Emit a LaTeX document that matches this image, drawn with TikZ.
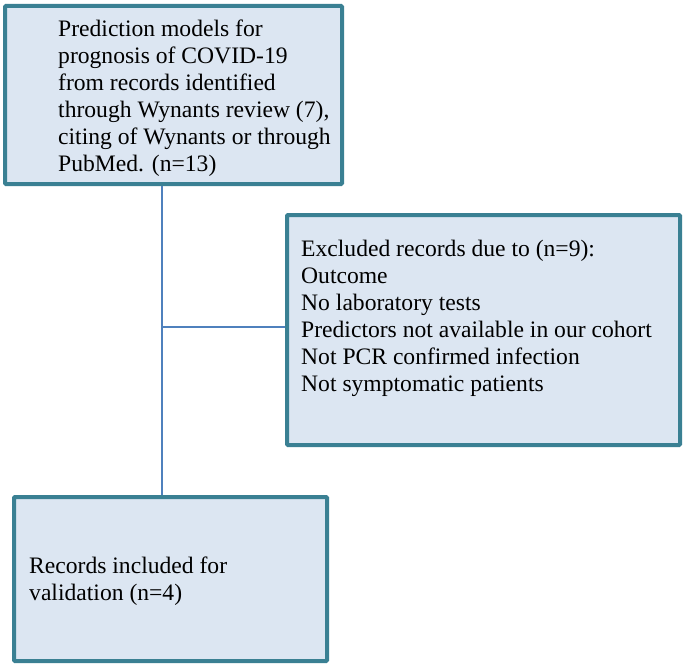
\documentclass[tikz,border=0pt]{standalone}
\usepackage{fontspec}
\setmainfont{Liberation Serif}
\definecolor{frame}{HTML}{3A8093}
\definecolor{boxfill}{HTML}{DCE6F2}
\definecolor{link}{HTML}{4F81BD}
\begin{document}
\begin{tikzpicture}[x=1pt, y=1pt,
		box/.style={draw=frame, line width=4pt, fill=boxfill, rounded corners=1pt, inner sep=0pt},
		txt/.style={align=left, inner sep=0pt, anchor=west, font=\fontsize{23.6}{27}\selectfont},
		conn/.style={draw=link, line width=1.5pt}]
		\useasboundingbox (0, 0) rectangle (685, -669);
		\node[box, minimum width=337, minimum height=178] (pred) at (173.5, -95) {};
		\node[box, minimum width=393, minimum height=230] (excl) at (483.5, -330) {};
		\node[box, minimum width=313, minimum height=164] (incl) at (170.5, -579) {};
		\node[txt] (predtxt) at ([xshift=55, yshift=-3]pred.west)
			{Prediction models for\\prognosis of COVID-19\\from records identified\\through Wynants review (7),\\citing of Wynants or through\\PubMed. (n=13)};
		\node[txt] (excltxt) at ([xshift=16, yshift=11.5]excl.west)
			{Excluded records due to (n=9):\\Outcome\\No laboratory tests\\Predictors not available in our cohort\\Not PCR confirmed infection\\Not symptomatic patients};
		\node[txt] (incltxt) at ([xshift=17, yshift=-2]incl.west)
			{Records included for\\validation (n=4)};
		% connectors
		\coordinate (trunk) at (162, 0);
		\coordinate (branch) at (162, -327);
		\draw[conn] (pred.south -| trunk) -- (incl.north -| trunk);
		\draw[conn] (branch) -- (branch -| excl.west);
	\end{tikzpicture}
\end{document}
